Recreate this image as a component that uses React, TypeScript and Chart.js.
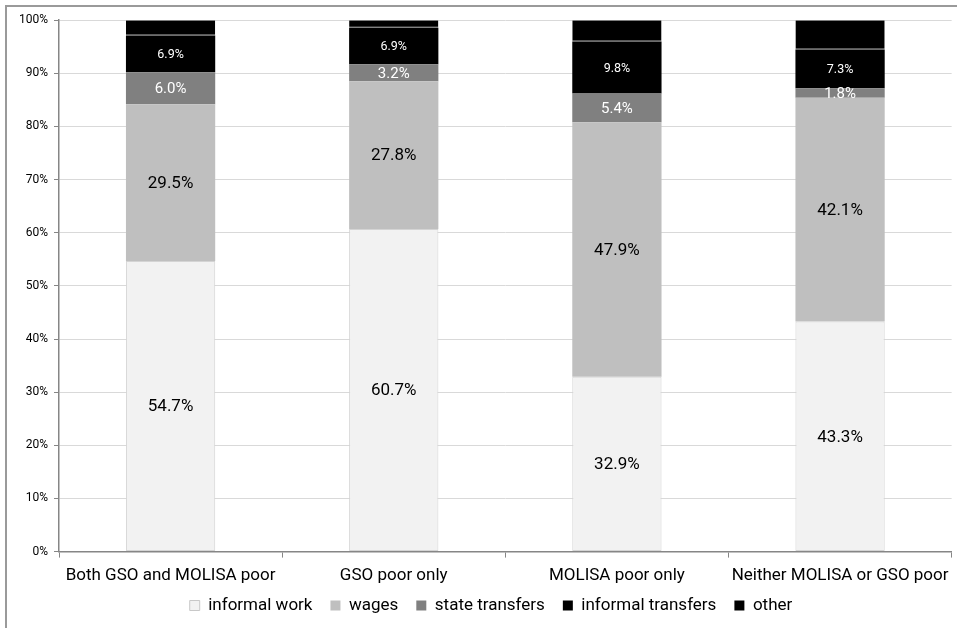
import { useEffect, useRef } from "react"
import { Chart, registerables } from "chart.js"

Chart.register(...registerables)

const categories = [
  "Both GSO and MOLISA poor",
  "GSO poor only",
  "MOLISA poor only",
  "Neither MOLISA or GSO poor",
]
const seriesNames = ["informal work", "wages", "state transfers", "informal transfers", "other"]
const informalWork = [54.7, 60.7, 32.9, 43.3]
const wages = [29.5, 27.8, 47.9, 42.1]
const stateTransfers = [6.0, 3.2, 5.4, 1.8]
const informalTransfers = [6.9, 6.9, 9.8, 7.3]
const other = [2.9, 1.4, 4.0, 5.5]
const yTickValues = [0, 10, 20, 30, 40, 50, 60, 70, 80, 90, 100]

const FONT = "Roboto, 'Liberation Sans', sans-serif"
const AXIS = "#868686"

// label style per dataset, null = no label
const labelStyles = [
  { color: "#000", size: 17 },
  { color: "#000", size: 17 },
  { color: "#fff", size: 15 },
  { color: "#fff", size: 12.5 },
  null,
]

const segmentLabels = {
  id: "segmentLabels",
  afterLayout(chart: any) {
    // legend sits a little right of centre in the original
    if (chart.legend) {
      chart.legend.left += 11
      chart.legend.right += 11
    }
    // x axis was squeezed, let its labels draw below its box
    chart.scales.x.bottom += 20
  },
  afterDatasetsDraw(chart: any) {
    const { ctx, chartArea } = chart
    ctx.save()
    ctx.beginPath()
    ctx.rect(chartArea.left, chartArea.top, chartArea.right - chartArea.left, chartArea.bottom - chartArea.top)
    ctx.clip()
    ctx.textAlign = "center"
    ctx.textBaseline = "middle"
    chart.data.datasets.forEach((ds: any, i: number) => {
      const st = labelStyles[i]
      if (!st) return
      chart.getDatasetMeta(i).data.forEach((bar: any, j: number) => {
        const { x, y, base } = bar.getProps(["x", "y", "base"], true)
        ctx.font = `${st.size}px ${FONT}`
        ctx.fillStyle = st.color
        ctx.fillText(Number(ds.data[j]).toFixed(1) + "%", x, (y + base) / 2 + 1)
      })
    })
    ctx.restore()
  },
}

export default function App() {
  const chartRef = useRef<HTMLCanvasElement>(null)
  const chartInstance = useRef<Chart | null>(null)

  useEffect(() => {
    if (!chartRef.current) return
    if (chartInstance.current) chartInstance.current.destroy()

    const base = { barPercentage: 0.4, categoryPercentage: 1, borderSkipped: false as const }

    chartInstance.current = new Chart(chartRef.current, {
      type: "bar",
      data: {
        labels: categories,
        datasets: [
          { ...base, label: seriesNames[0], data: informalWork, backgroundColor: "#f2f2f2", borderColor: "#d4d4d4", borderWidth: 1 },
          { ...base, label: seriesNames[1], data: wages, backgroundColor: "#bfbfbf", borderWidth: 0 },
          { ...base, label: seriesNames[2], data: stateTransfers, backgroundColor: "#808080", borderWidth: 0 },
          { ...base, label: seriesNames[3], data: informalTransfers, backgroundColor: "#000000", borderWidth: 0 },
          {
            ...base,
            label: seriesNames[4],
            data: other,
            backgroundColor: "#000000",
            borderColor: "#6e6e6e",
            borderWidth: { top: 0, left: 0, right: 0, bottom: 1 },
          },
        ],
      },
      options: {
        responsive: true,
        maintainAspectRatio: false,
        animation: false,
        layout: { padding: { top: 13, right: 4, left: 0, bottom: 4 } },
        scales: {
          x: {
            stacked: true,
            afterFit: (scale: any) => {
              scale.height = scale.height - 15
            },
            grid: { offset: true, drawOnChartArea: false, tickLength: 6, color: AXIS, lineWidth: 1 },
            border: { display: true, color: AXIS, width: 1.5 },
            ticks: { color: "#000", font: { family: FONT, size: 17 }, padding: 8 },
          },
          y: {
            stacked: true,
            min: 0,
            max: 100,
            afterBuildTicks: (scale: any) => {
              scale.ticks = yTickValues.map((v) => ({ value: v }))
            },
            afterFit: (scale: any) => {
              scale.width = 52
            },
            grid: { color: "#d9d9d9", tickColor: AXIS, tickLength: 5, lineWidth: 1 },
            border: { display: true, color: AXIS, width: 1.5 },
            ticks: {
              color: "#000",
              font: { family: FONT, size: 12 },
              padding: 6,
              callback: (v: any) => v + "%",
            },
          },
        },
        plugins: {
          legend: {
            position: "bottom",
            labels: {
              color: "#000",
              font: { family: FONT, size: 17 },
              boxWidth: 10,
              boxHeight: 10,
              padding: 18,
              generateLabels: (chart: any) =>
                Chart.defaults.plugins.legend.labels.generateLabels(chart).map((l: any) => ({
                  ...l,
                  strokeStyle: "#c8c8c8",
                  lineWidth: l.datasetIndex === 0 ? 1 : 0,
                })),
            },
          },
          tooltip: { enabled: false },
        },
      },
      plugins: [segmentLabels],
    })

    return () => {
      if (chartInstance.current) {
        chartInstance.current.destroy()
        chartInstance.current = null
      }
    }
  }, [])

  return (
    <div
      style={{
        position: "fixed",
        left: 5,
        top: 5,
        right: 0,
        bottom: 0,
        borderTop: "2px solid #9a9a9a",
        borderLeft: "2px solid #9a9a9a",
        background: "#fff",
      }}
    >
      <div style={{ position: "relative", width: "100%", height: "100%" }}>
        <canvas ref={chartRef}></canvas>
      </div>
    </div>
  )
}
